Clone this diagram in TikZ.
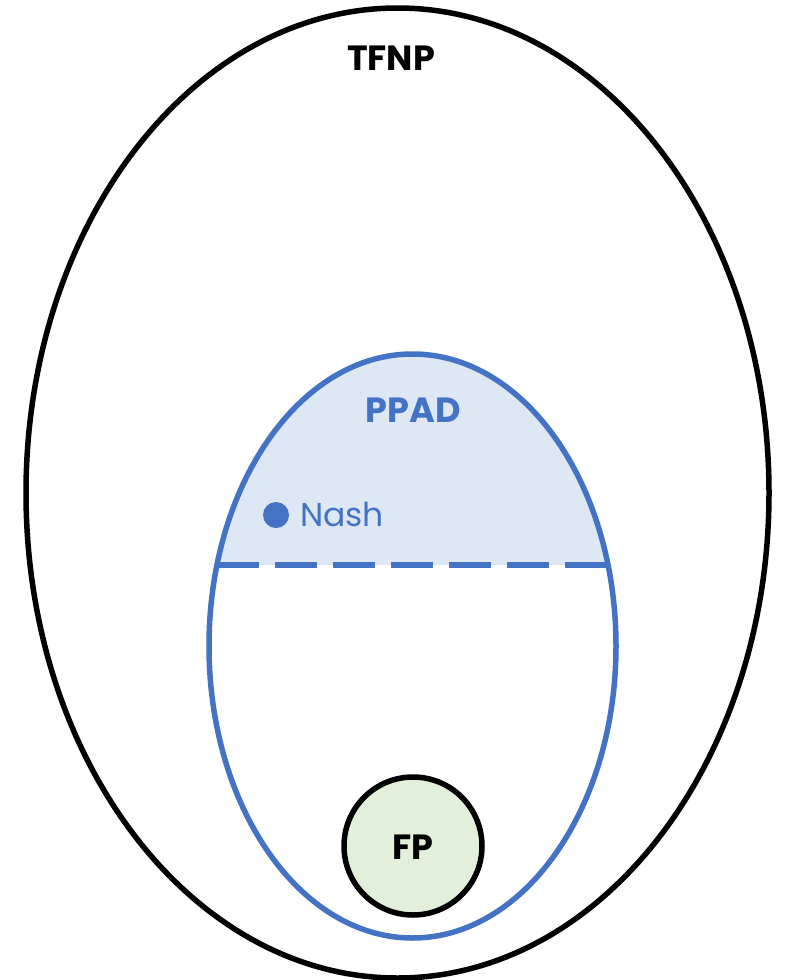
\documentclass[tikz,border=0pt]{standalone}
\usepackage{fontspec}
\setmainfont{Poppins}
\definecolor{setblue}{HTML}{4472C4}
\definecolor{setfill}{HTML}{DEE8F5}
\definecolor{fpfill}{HTML}{E2EFDA}
\begin{document}
\begin{tikzpicture}[x=1pt,y=-1pt,
  classline/.style={line width=5.5pt},
  label/.style={font=\fontsize{35}{40}\selectfont\bfseries, inner sep=0pt}]
\useasboundingbox (0,0) rectangle (785,980);
% TFNP
\draw[classline, black] (397.5,493) ellipse [x radius=371.5, y radius=485];
% PPAD: shaded upper region, then outline and dashed divider
\begin{scope}
  \clip (412.5,646) ellipse [x radius=203.5, y radius=292];
  \fill[setfill] (200,340) rectangle (630,565);
\end{scope}
\draw[classline, setblue] (412.5,646) ellipse [x radius=203.5, y radius=292];
\coordinate (dl) at (217,565);
\coordinate (dr) at (609,565);
\draw[classline, setblue, dash pattern=on 42pt off 16pt] (dl) -- (dr);
% FP
\draw[classline, black, fill=fpfill] (413,846) circle [radius=69];
% labels
\node[label, black] (tfnp) at (391,58) {TFNP};
\node[label, setblue] (ppad) at (413,410) {PPAD};
\node[label, black] (fp) at (413,847) {FP};
\fill[setblue] (276,515) circle [radius=13] coordinate (dot);
\node[font=\fontsize{33}{40}\selectfont, text=setblue, inner sep=0pt, anchor=west] (nash) at (300,514) {Nash};
\end{tikzpicture}
\end{document}
